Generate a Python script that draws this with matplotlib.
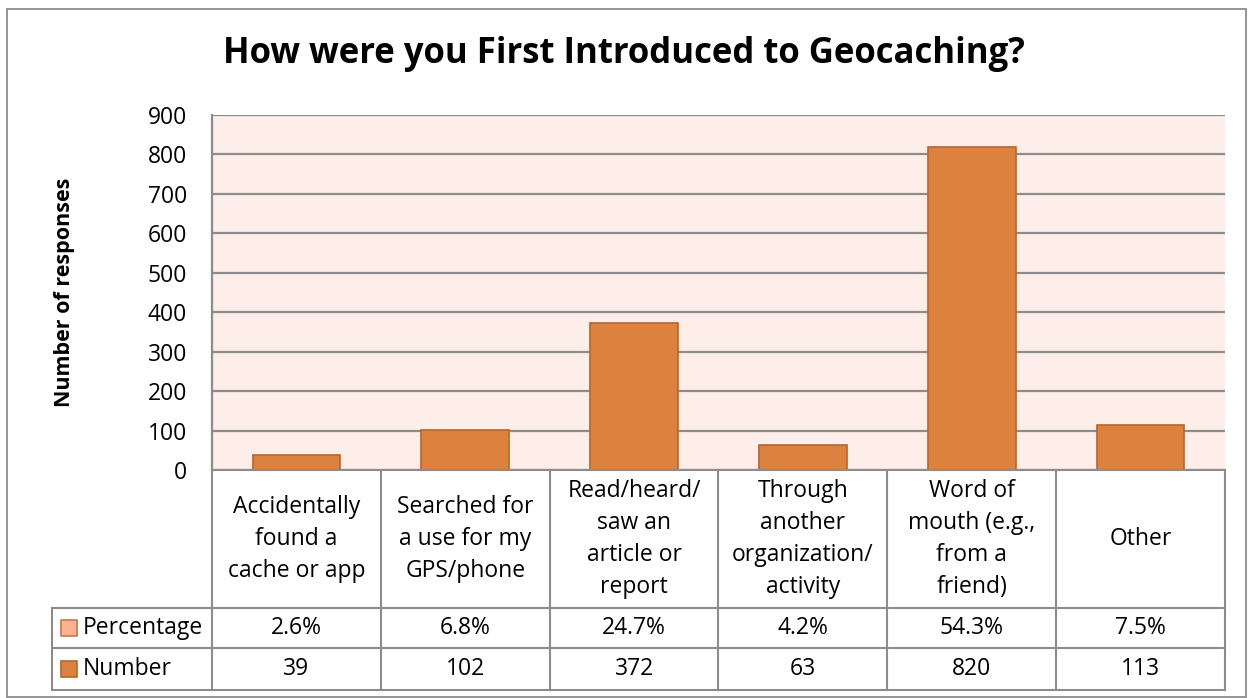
import matplotlib
matplotlib.use("Agg")
import matplotlib.pyplot as plt
from matplotlib.patches import Rectangle
import numpy as np

plt.rcParams['font.family'] = ['Open Sans', 'DejaVu Sans']

categories = ["Accidentally\nfound a\ncache or app",
              "Searched for\na use for my\nGPS/phone",
              "Read/heard/\nsaw an\narticle or\nreport",
              "Through\nanother\norganization/\nactivity",
              "Word of\nmouth (e.g.,\nfrom a\nfriend)",
              "Other"]
numbers = [39, 102, 372, 63, 820, 113]
percentages = [2.6, 6.8, 24.7, 4.2, 54.3, 7.5]
yticks = [0, 100, 200, 300, 400, 500, 600, 700, 800, 900]

W, H = 1253, 698
fig = plt.figure(figsize=(W / 100, H / 100), dpi=100)

FS = 16.5

# outer border
fig.patches.append(Rectangle((7 / W, 1 - 697 / H), (1246 - 7) / W, (697 - 9) / H,
                             transform=fig.transFigure, fill=False,
                             edgecolor='#8c8c8c', linewidth=1.3))

L, R, T, B = 212, 1225, 115, 470
ax = fig.add_axes([L / W, 1 - B / H, (R - L) / W, (B - T) / H])
ax.set_facecolor('#fdeeea')
x = np.arange(len(categories))
ax.bar(x, numbers, width=0.52, color='#dc823e', edgecolor='#b8652a', linewidth=1.2, zorder=3)
ax.set_xlim(-0.5, len(categories) - 0.5)
ax.set_ylim(0, 900)
ax.set_yticks(yticks)
ax.set_yticklabels([str(v) for v in yticks], fontsize=FS)
ax.tick_params(axis='y', length=0, pad=18)
ax.tick_params(axis='x', length=0, labelbottom=False)
ax.grid(axis='y', color='#8c8c8c', linewidth=1.6, zorder=1)
for s in ['top', 'right', 'bottom']:
    ax.spines[s].set_visible(False)
ax.spines['left'].set_color('#8c8c8c')
ax.spines['left'].set_linewidth(1.6)

ax.set_ylabel("Number of responses", fontsize=15.5, fontweight='bold', labelpad=52)
fig.text(624 / W, 1 - 54 / H, "How were you First Introduced to Geocaching?",
         ha='center', va='center', fontsize=25, fontweight='bold')

# table drawn in axes coordinates
hpx = B - T
def yf(py):
    return -(py - B) / hpx

catpx = (R - L) / len(categories)
tr = ax.get_xaxis_transform()
y_cat_bot = yf(608)
y_pct_bot = yf(648)
y_num_bot = yf(690)
lab_left = -0.5 - (L - 52) / catpx
lc = '#8c8c8c'
lw = 1.5
ax.plot([-0.5, 5.5], [0, 0], transform=tr, color=lc, lw=lw, clip_on=False, zorder=5)
for yy in [y_cat_bot, y_pct_bot, y_num_bot]:
    ax.plot([lab_left, 5.5], [yy, yy], transform=tr, color=lc, lw=lw, clip_on=False)
for xb in np.arange(-0.5, len(categories)):
    ax.plot([xb, xb], [0, y_num_bot], transform=tr, color=lc, lw=lw, clip_on=False)
ax.plot([lab_left, lab_left], [y_cat_bot, y_num_bot], transform=tr, color=lc, lw=lw, clip_on=False)

for i, c in enumerate(categories):
    ax.text(i, (0 + y_cat_bot) / 2, c, transform=tr, ha='center', va='center',
            fontsize=FS, linespacing=1.43)
    ax.text(i, (y_cat_bot + y_pct_bot) / 2, f"{percentages[i]:.1f}%", transform=tr,
            ha='center', va='center', fontsize=FS)
    ax.text(i, (y_pct_bot + y_num_bot) / 2, str(numbers[i]), transform=tr,
            ha='center', va='center', fontsize=FS)

for yy0, yy1, col, edge, lab in [(y_cat_bot, y_pct_bot, '#f9b38e', '#c8764a', 'Percentage'),
                                  (y_pct_bot, y_num_bot, '#dc823e', '#b8652a', 'Number')]:
    ym = (yy0 + yy1) / 2
    sq_h = 16 / hpx
    x0 = lab_left + 9 / catpx
    ax.add_patch(Rectangle((x0, ym - sq_h / 2), 16 / catpx, sq_h,
                           transform=tr, facecolor=col, edgecolor=edge, lw=1.2, clip_on=False))
    ax.text(x0 + 22 / catpx, ym, lab, transform=tr, ha='left',
            va='center', fontsize=FS)

fig.savefig("out.png", dpi=100)
